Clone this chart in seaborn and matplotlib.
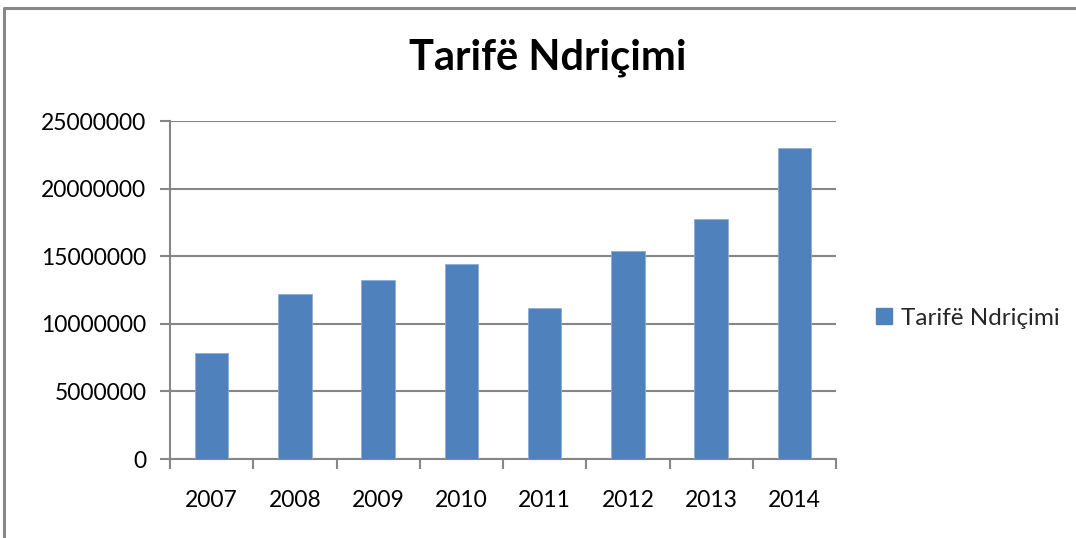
import matplotlib
matplotlib.use("Agg")
import matplotlib.pyplot as plt
import seaborn as sns
import pandas as pd
from matplotlib.lines import Line2D
from matplotlib.ticker import FixedLocator

years = ["2007", "2008", "2009", "2010", "2011", "2012", "2013", "2014"]
values = [7870000, 12200000, 13270000, 14430000, 11140000, 15420000, 17770000, 23010000]
series_name = "Tarifë Ndriçimi"
title = "Tarifë Ndriçimi"
yticks = [0, 5000000, 10000000, 15000000, 20000000, 25000000]

sns.set_theme(style="white")
plt.rcParams["font.family"] = ["Lato", "DejaVu Sans"]

df = pd.DataFrame({"year": years, "value": values})

fig = plt.figure(figsize=(10.76, 5.38), dpi=100)
ax = fig.add_axes([170 / 1076, 1 - 459 / 538, (836 - 170) / 1076, (459 - 121) / 538])

grid_c = "#868686"
sns.barplot(data=df, x="year", y="value", color="#4F81BD", width=0.4,
            saturation=1, ax=ax, label=series_name, edgecolor="#8EADD6", linewidth=0.6,
            zorder=3)

ax.set_xlim(-0.5, len(years) - 0.5)
ax.set_ylim(0, 25000000)
ax.set_yticks(yticks)
ax.set_yticklabels([str(v) for v in yticks])
ax.yaxis.grid(True, color=grid_c, linewidth=1.5, zorder=0)
ax.set_axisbelow(True)
ax.set_xlabel("")
ax.set_ylabel("")

for s in ["top", "right"]:
    ax.spines[s].set_visible(False)
for s in ["left", "bottom"]:
    ax.spines[s].set_color(grid_c)
    ax.spines[s].set_linewidth(1.5)

ax.tick_params(axis="y", which="major", length=7, width=1.5, color=grid_c,
               labelsize=16.5, labelcolor="black", pad=10, left=True)
ax.tick_params(axis="x", which="major", length=0, labelsize=16.5, labelcolor="black", pad=22)
ax.xaxis.set_minor_locator(FixedLocator([i - 0.5 for i in range(len(years) + 1)]))
ax.tick_params(axis="x", which="minor", length=7, width=1.5, color=grid_c, bottom=True)

fig.text(548 / 1076, 1 - 58 / 538, title, ha="center", va="center",
         fontsize=30, fontweight="bold", color="black")

handle = Line2D([], [], marker="s", linestyle="none", markersize=11,
                markerfacecolor="#4F81BD", markeredgecolor="#4F81BD")
ax.legend([handle], [series_name], loc="center left",
          bbox_to_anchor=(872 / 1076, 1 - 318 / 538), bbox_transform=fig.transFigure,
          frameon=False, fontsize=17.5, handletextpad=0.2, handlelength=1.0,
          borderpad=0, borderaxespad=0)

# outer chart frame
fig.add_artist(Line2D([3.5 / 1076, 3.5 / 1076, 1.0], [0.0, 1 - 7.5 / 538, 1 - 7.5 / 538],
                      transform=fig.transFigure, color="#888888", linewidth=2.2))

fig.savefig("out.png", dpi=100)
